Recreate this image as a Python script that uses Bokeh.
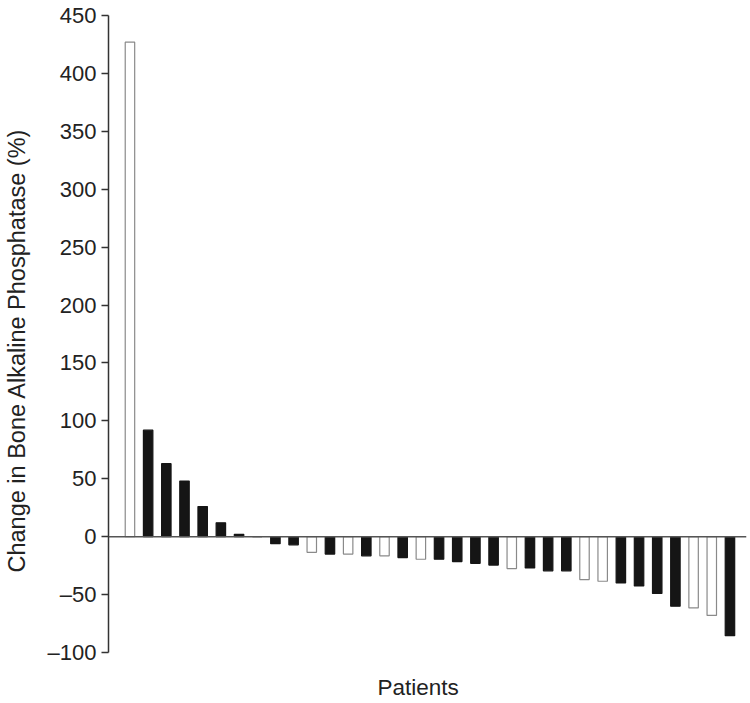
from bokeh.plotting import figure
from bokeh.models import (ColumnDataSource, Span, LinearAxis, FixedTicker, SingleIntervalTicker,
                          CustomJSTickFormatter, Range1d, Title)
from bokeh.embed import file_html
from bokeh.resources import INLINE

# Data
patients = list(range(34))
change_pct = [427, 92, 63, 48, 26, 12, 2, 0, -6, -7, -13.5, -15, -15, -16.5, -16.5, -18,
              -19.5, -19.5, -21.5, -23, -24.5, -27.5, -27, -29.5, -29.5, -37, -38.5, -40,
              -42.5, -49, -60, -61.5, -68, -85.5]
group = ["open", "filled", "filled", "filled", "filled", "filled", "filled", "filled",
         "filled", "filled", "open", "filled", "open", "filled", "open", "filled",
         "open", "filled", "filled", "filled", "filled", "open", "filled", "filled",
         "filled", "open", "open", "filled", "filled", "filled", "filled", "open",
         "open", "filled"]
y_ticks_interval = 50
y_label = "Change in Bone Alkaline Phosphatase (%)"
x_label = "Patients"

FONT = "Liberation Sans"

fill = ["white" if g == "open" else "#151515" for g in group]
line = ["#8a8a8a" if g == "open" else "#151515" for g in group]
src = ColumnDataSource(dict(x=patients, top=change_pct, fill=fill, line=line))

p = figure(width=750, height=703, output_backend="svg", toolbar_location=None,
           x_range=Range1d(-1.18, 33.91), y_range=Range1d(-100, 450),
           min_border_left=108, min_border_right=4, min_border_top=15, min_border_bottom=51)
p.outline_line_color = None
p.grid.visible = False
p.background_fill_color = "white"
p.border_fill_color = "white"

p.vbar(x="x", top="top", bottom=0, width=0.52, fill_color="fill", line_color="line",
       line_width=1.2, source=src)

p.add_layout(Span(location=0, dimension="width", line_color="#555555", line_width=1.5))

blank = CustomJSTickFormatter(code="return ''")

# bottom axis used only as an invisible spacer above the "Patients" title
xa = p.xaxis[0]
xa.ticker = FixedTicker(ticks=[patients[0]])
xa.formatter = blank
xa.axis_line_color = None
xa.major_tick_line_color = None
xa.minor_tick_line_color = None
xa.major_tick_in = 0
xa.major_tick_out = 20
xa.minor_tick_out = 0
xa.major_label_standoff = 0
xa.major_label_text_font_size = "0px"

ya = p.yaxis[0]
ya.ticker = SingleIntervalTicker(interval=y_ticks_interval)
ya.formatter = CustomJSTickFormatter(code="return String(tick).replace('-', '\u2013')")
ya.axis_line_color = "#333333"
ya.axis_line_width = 1.5
ya.major_tick_line_color = "#333333"
ya.major_tick_line_width = 1.5
ya.major_tick_out = 7
ya.major_tick_in = 0
ya.minor_tick_line_color = None
ya.major_label_standoff = 5
ya.major_label_text_font = FONT
ya.major_label_text_font_size = "22px"
ya.major_label_text_color = "#222222"

# invisible left spacer between the tick labels and the y title
spacer = LinearAxis(ticker=FixedTicker(ticks=[0]), formatter=blank, axis_line_color=None,
                    major_tick_line_color=None, minor_tick_line_color=None,
                    major_tick_in=0, major_tick_out=15, minor_tick_out=0,
                    major_label_standoff=0, major_label_text_font_size="0px")
p.add_layout(spacer, "left")

p.add_layout(Title(text=y_label, align="left", offset=80, standoff=0,
                   text_font=FONT, text_font_size="23.5px", text_font_style="normal",
                   text_color="#222222"), "left")
p.add_layout(Title(text=x_label, align="left", offset=269, standoff=0,
                   text_font=FONT, text_font_size="22.5px", text_font_style="normal",
                   text_color="#222222"), "below")

open("out.html", "w").write(file_html(p, INLINE))
